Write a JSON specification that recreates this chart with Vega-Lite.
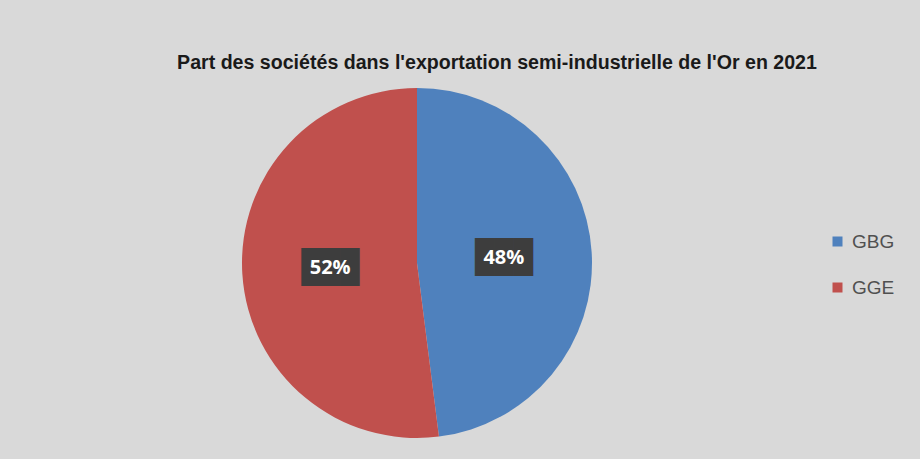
{
  "$schema": "https://vega.github.io/schema/vega-lite/v6.json",
  "autosize": "none",
  "width": 350,
  "height": 350,
  "padding": {"left": 242, "top": 88, "right": 328, "bottom": 21},
  "background": "#d9d9d9",
  "config": {"view": {"stroke": null}},
  "title": {
    "text": "Part des sociétés dans l'exportation semi-industrielle de l'Or  en 2021",
    "font": "Liberation Sans, sans-serif",
    "fontSize": 19.6,
    "fontWeight": "bold",
    "color": "#1a1a1a",
    "anchor": "middle",
    "dx": 80,
    "offset": 14
  },
  "data": {
    "values": [
      {"societe": "GBG", "valeur": 48, "label": "48%"},
      {"societe": "GGE", "valeur": 52, "label": "52%"}
    ]
  },
  "layer": [
    {
      "mark": {"type": "arc", "stroke": null},
      "encoding": {
        "theta": {"field": "valeur", "type": "quantitative", "stack": true},
        "color": {
          "field": "societe",
          "type": "nominal",
          "scale": {"domain": ["GBG", "GGE"], "range": ["#4f81bd", "#c0504d"]},
          "legend": {
            "title": null,
            "orient": "none",
            "legendX": 586,
            "legendY": 144,
            "symbolType": "square",
            "symbolSize": 100,
            "symbolStrokeWidth": 0,
            "labelFont": "Liberation Sans, sans-serif",
            "labelFontSize": 19,
            "labelColor": "#505050",
            "labelOffset": 5,
            "rowPadding": 26
          }
        }
      }
    },
    {
      "mark": {"type": "text", "font": "DejaVu Sans Mono", "fontSize": 32, "color": "#3d3d3d", "baseline": "middle", "align": "center"},
      "encoding": {
        "theta": {"field": "valeur", "type": "quantitative", "stack": true},
        "detail": {"field": "societe", "type": "nominal"},
        "radius": {"value": 87},
        "text": {"value": "███"}
      }
    },
    {
      "mark": {"type": "text", "font": "Open Sans", "fontSize": 20, "fontWeight": "bold", "color": "#ffffff", "baseline": "middle", "align": "center"},
      "encoding": {
        "theta": {"field": "valeur", "type": "quantitative", "stack": true},
        "detail": {"field": "societe", "type": "nominal"},
        "radius": {"value": 87},
        "text": {"field": "label", "type": "nominal"}
      }
    }
  ]
}
